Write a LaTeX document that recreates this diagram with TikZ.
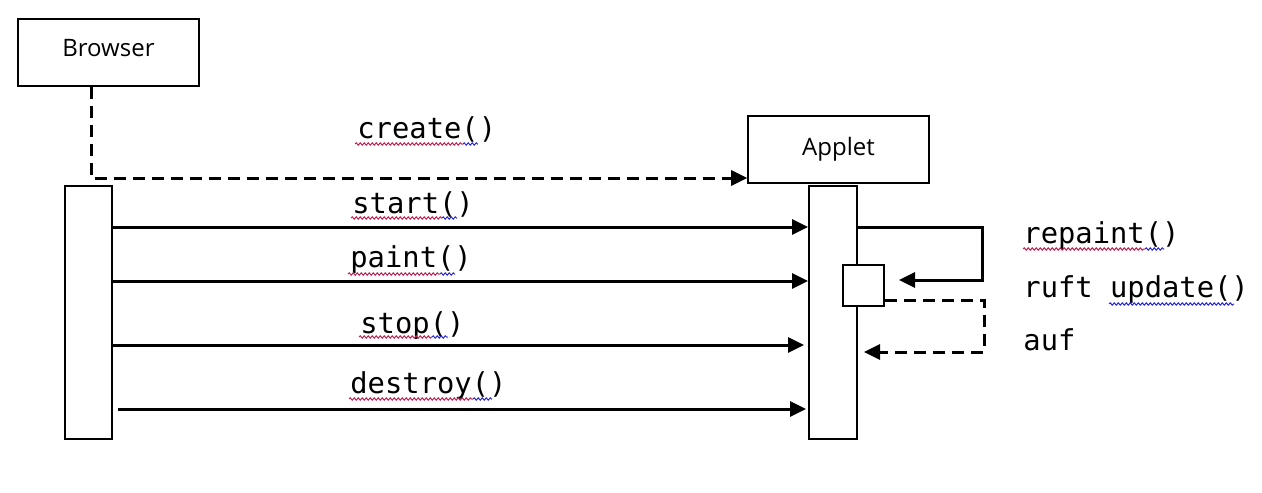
\documentclass[tikz,border=0pt]{standalone}
\usepackage{fontspec}
\setmainfont{Open Sans}
\newfontfamily\monof{DejaVu Sans Mono}
\usetikzlibrary{arrows.meta,decorations.pathmorphing,calc}
\definecolor{wred}{RGB}{200,30,80}
\definecolor{wblue}{RGB}{40,40,220}
\begin{document}
\begin{tikzpicture}[x=0.5pt,y=-0.5pt,
 objbox/.style={draw,line width=0.8pt,fill=white,inner sep=0,minimum width=90.5pt,minimum height=33.5pt,font=\fontsize{12}{14}\selectfont},
 actbox/.style={draw,line width=1pt,fill=white,inner sep=0,minimum width=23.5pt,minimum height=126.5pt},
 msg/.style={line width=1.5pt,-{Triangle[length=8pt,width=7.5pt]}},
 dmsg/.style={msg,dash pattern=on 6pt off 3.5pt},
 lbl/.style={anchor=base west,inner sep=0,font=\monof\fontsize{14.4}{17}\selectfont},
 wv/.style={line width=0.5pt,decorate,decoration={snake,segment length=2pt,amplitude=0.6pt}},
]
\useasboundingbox[fill=white] (0,0) rectangle (1262,492);

% objects
\node[objbox,text depth=4.5pt] (browser) at (108.5,52.5) {Browser};
\node[objbox] (applet) at (838.5,149.5) {Applet};

% activation boxes
\node[actbox] (bact) at (88.5,312.5) {};
\node[actbox,minimum width=24pt] (aact) at (833,312.5) {};
\node[draw,line width=1pt,fill=white,inner sep=0,minimum size=20.5pt] (sbox) at (863.5,285.5) {};

% coordinates
\coordinate (bl) at (91,178);
\coordinate (y1) at (0,227);
\coordinate (y2) at (0,281);
\coordinate (y3) at (0,345);
\coordinate (y4) at (0,409);
\coordinate (c1) at (982,280);
\coordinate (c2) at (984,300);
\coordinate (c3) at (984,352);

% create
\draw[dmsg] (browser.south -| bl) -- (bl) -- (applet.west |- bl);

% messages
\draw[msg] (bact.east |- y1) -- (aact.west |- y1);
\draw[msg] (bact.east |- y2) -- (aact.west |- y2);
\draw[msg] (bact.east |- y3) -- ($(aact.west |- y3)+(-4,0)$);
\draw[msg] ($(bact.east |- y4)+(5,0)$) -- ($(aact.west |- y4)+(-2,0)$);

% self call
\draw[msg,line join=miter] (aact.east |- y1) -| (c1) -- ($(sbox.east |- c1)+(14,0)$);
\draw[dmsg,line join=miter] (sbox.east |- c2) -- (c2) -- (c3) -- ($(aact.east |- c3)+(6,0)$);

% labels
\node[lbl] (lcreate) at (357,138) {create()};
\node[lbl] (lstart) at (352,213) {start()};
\node[lbl] (lpaint) at (350,267) {paint()};
\node[lbl] (lstop) at (360,333) {stop()};
\node[lbl] (ldestroy) at (350,393) {destroy()};
\node[lbl] (lrepaint) at (1023,243) {repaint()};
\node[lbl] (lruft) at (1023,297) {ruft update()};
\node[lbl] (lauf) at (1023,350) {auf};

% spell-check underlines
\draw[wv,wred] (355,144) -- (463,144);
\draw[wv,wblue] (463,144) -- (478,144);
\draw[wv,wred] (351,218) -- (442,218);
\draw[wv,wblue] (442,218) -- (457,218);
\draw[wv,wred] (348,274) -- (440,274);
\draw[wv,wblue] (440,274) -- (455,274);
\draw[wv,wred] (359,337) -- (432,337);
\draw[wv,wblue] (432,337) -- (448,337);
\draw[wv,wred] (349,399) -- (473,399);
\draw[wv,wblue] (473,399) -- (492,399);
\draw[wv,wred] (1023,249) -- (1145,249);
\draw[wv,wblue] (1145,249) -- (1164,249);
\draw[wv,wblue] (1109,304) -- (1234,304);
\end{tikzpicture}
\end{document}
